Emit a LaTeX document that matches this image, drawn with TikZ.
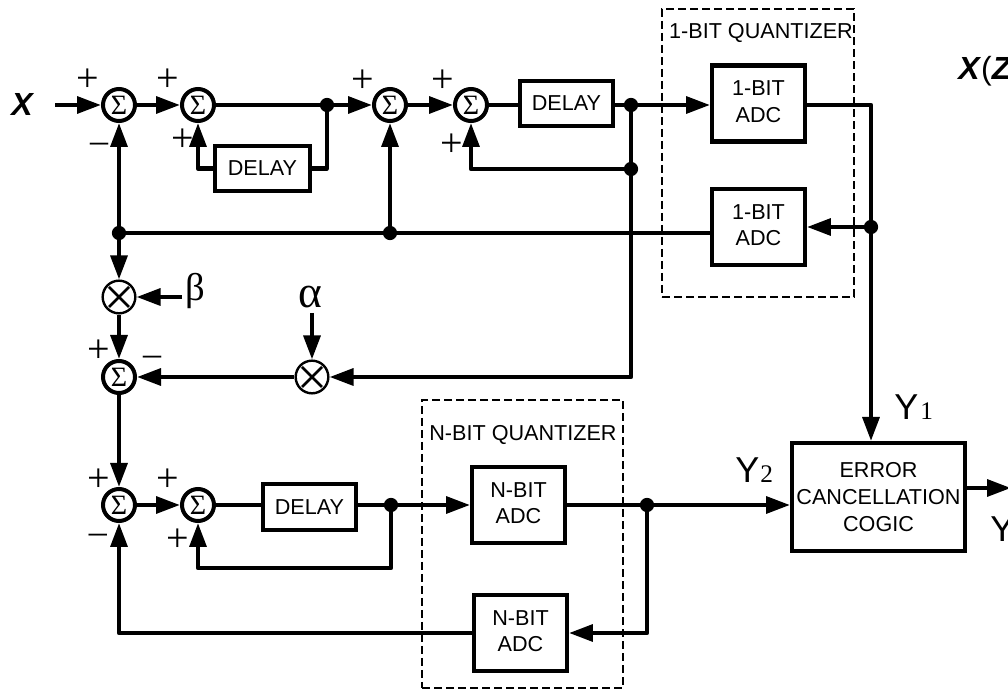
\documentclass[tikz,border=0pt]{standalone}
\usepackage{fontspec}
\setmainfont{Liberation Sans}
\newfontfamily\serifgr{Liberation Serif}
\usetikzlibrary{arrows.meta,calc}
\tikzset{
  wire/.style={line width=3.2pt,line join=round},
  arr/.style={wire,-{Triangle[length=18pt,width=12.5pt]}},
  boxn/.style={draw,line width=3.2pt,fill=white,inner sep=0pt,align=center,font=\fontsize{16.2}{20}\selectfont},
  adc/.style={boxn,minimum width=69.5pt,minimum height=57pt,text depth=3pt},
  sumn/.style={circle,draw,line width=3pt,fill=white,minimum size=24pt,inner sep=0pt,font=\serifgr\fontsize{21}{21}\selectfont},
  muln/.style={circle,draw,line width=1.8pt,fill=white,minimum size=24.5pt,inner sep=0pt},
  dotn/.style={circle,fill=black,minimum size=10.7pt,inner sep=0pt},
  dashbox/.style={draw,line width=1.2pt,dash pattern=on 6pt off 3pt,inner sep=0pt},
  signn/.style={inner sep=0pt,font=\serifgr\fontsize{30}{30}\selectfont},
  minusn/.style={inner sep=0pt,font=\serifgr\fontsize{27}{27}\selectfont},
  lab/.style={inner sep=0pt,font=\fontsize{16.2}{20}\selectfont},
  big/.style={inner sep=0pt,font=\bfseries\itshape\fontsize{24}{24}\selectfont},
  yl/.style={inner sep=0pt,anchor=base west,font=\fontsize{27}{27}\selectfont},
  ysub/.style={inner sep=0pt,anchor=base west,font=\serifgr\fontsize{19}{19}\selectfont},
  cross/.style={line width=1.9pt},
}
\begin{document}
\begin{tikzpicture}[x=0.75pt,y=-0.75pt]
\useasboundingbox (0,0) rectangle (1008,691);
\clip (0,0) rectangle (1008,691);
% dashed quantizer frames
\node[dashbox,minimum width=144pt,minimum height=216pt] (q1) at (758,153) {};
\node[dashbox,minimum width=150.75pt,minimum height=216pt] (q2) at (522.5,544) {};
\node[lab] (q1l) at (761,33) {1-BIT QUANTIZER};
\node[lab] (q2l) at (523,435) {N-BIT QUANTIZER};
% summers
\node[sumn] (s1) at (119,105) {Σ};
\node[sumn] (s2) at (198,105) {Σ};
\node[sumn] (s3) at (390,105) {Σ};
\node[sumn] (s4) at (471,105) {Σ};
\node[sumn] (s5) at (119,377) {Σ};
\node[sumn] (s6) at (119,505) {Σ};
\node[sumn] (s7) at (198,505) {Σ};
\node[muln] (m1) at (119,297) {};
\node[muln] (m2) at (312,377) {};
% boxes
\node[boxn,minimum width=71pt,minimum height=33.5pt] (d1) at (262.5,168.5) {DELAY};
\node[boxn,minimum width=69.5pt,minimum height=33.5pt] (d2) at (566.5,103.5) {DELAY};
\node[boxn,minimum width=69.5pt,minimum height=34pt] (d3) at (309.5,507) {DELAY};
\node[adc] (a1) at (758.5,103.5) {1-BIT\\ADC};
\node[adc] (a2) at (758.5,227) {1-BIT\\ADC};
\node[adc] (n1) at (518.5,505) {N-BIT\\ADC};
\node[adc] (n2) at (520.5,633) {N-BIT\\ADC};
\node[boxn,minimum width=129.5pt,minimum height=80.8pt] (err) at (878.5,497) {ERROR\\CANCELLATION\\COGIC};
% junctions
\node[dotn] (j1) at (327,105) {};
\node[dotn] (j2) at (631,105) {};
\node[dotn] (j3) at (631,169) {};
\node[dotn] (j4) at (871,227) {};
\node[dotn] (j5) at (119,233) {};
\node[dotn] (j6) at (390,233) {};
\node[dotn] (j7) at (391,505) {};
\node[dotn] (j8) at (647,505) {};
% free ends
\coordinate (xin) at (55,105);
\coordinate (bin) at (182,297);
\coordinate (ain) at (312,313);
\coordinate (yout) at (1011,488);
\coordinate (fb) at (198,568);
% top chain
\draw[arr] (xin) -- (s1);
\draw[arr] (s1) -- (s2);
\draw[wire] (s2) -- (j1);
\draw[arr] (j1) -- (s3);
\draw[arr] (s3) -- (s4);
\draw[wire] (s4) -- (s4 -| d2.west);
\draw[wire] (d2.east |- j2) -- (j2);
\draw[arr] (j2) -- (j2 -| a1.west);
\draw[wire] (a1.east |- j2) -| (j4);
\draw[arr] (j4) -- (a2);
\draw[arr] (j4) -- (j4 |- err.north);
\draw[wire] (j1) |- (d1);
\draw[arr] (d1) -| (s2);
\draw[wire] (j2) -- (j3);
\draw[arr] (j3) -| (s4);
\draw[wire] (j6 -| a2.west) -- (j6);
\draw[wire] (j6) -- (j5);
\draw[arr] (j6) -- (s3);
\draw[arr] (j5) -- (s1);
\draw[arr] (j5) -- (m1);
\draw[arr] (bin) -- (m1);
\draw[arr] (m1) -- (s5);
\draw[arr] (ain) -- (m2);
\draw[arr] (j3) |- (m2);
\draw[arr] (m2) -- (s5);
\draw[arr] (s5) -- (s6);
% lower chain
\draw[arr] (s6) -- (s7);
\draw[wire] (s7) -- (s7 -| d3.west);
\draw[wire] (d3.east |- j7) -- (j7);
\draw[arr] (j7) -- (n1);
\draw[wire] (n1) -- (j8);
\draw[arr] (j8) -- (err.west |- j8);
\draw[arr] (j8) |- (n2);
\draw[arr] (n2) -| (s6);
\draw[arr] (j7) |- (fb) -- (s7);
\draw[arr] (err.east |- yout) -- (yout);
% multiplier crosses
\draw[cross] ($(m1)+(-10,-10)$) -- ($(m1)+(10,10)$) ($(m1)+(10,-10)$) -- ($(m1)+(-10,10)$);
\draw[cross] ($(m2)+(-10,-10)$) -- ($(m2)+(10,10)$) ($(m2)+(10,-10)$) -- ($(m2)+(-10,10)$);
% labels
\node[big] (xl) at (22,104) {X};
\node[big,anchor=base west] (xz) at (958,80) {X\textmd{\textup{(}}Z};
\node[inner sep=0pt,font=\serifgr\fontsize{29}{29}\selectfont] (beta) at (195,291) {β};
\node[inner sep=0pt,font=\serifgr\fontsize{34}{34}\selectfont] (alpha) at (310,297) {α};
\node[signn] (p1) at (88,80) {+};
\node[signn] (p2) at (168,80) {+};
\node[signn] (p3) at (363,81) {+};
\node[signn] (p4) at (443,81) {+};
\node[signn] (p5) at (183,140) {+};
\node[signn] (p6) at (452,145) {+};
\node[signn] (p7) at (99,351) {+};
\node[signn] (p8) at (99,480) {+};
\node[signn] (p9) at (168,480) {+};
\node[signn] (p10) at (178,540) {+};
\node[minusn] (m1l) at (99,148) {–};
\node[minusn] (m2l) at (152,361) {–};
\node[minusn] (m3l) at (98,539) {–};
\node[yl] (y1) at (894,420) {Y};
\node[ysub] (y1s) at (920,420) {1};
\node[yl] (y2) at (735,483) {Y};
\node[ysub] (y2s) at (760,483) {2};
\node[yl] (y3) at (990,542) {Y};
\end{tikzpicture}
\end{document}
